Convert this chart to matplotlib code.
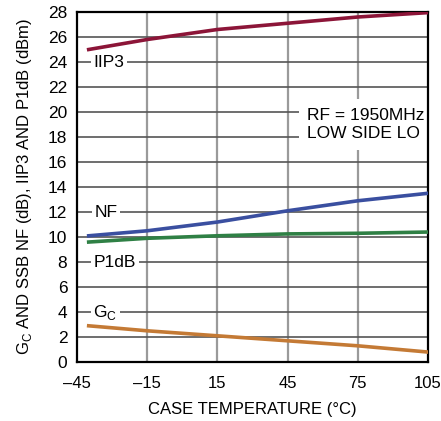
import matplotlib
matplotlib.use('Agg')
import matplotlib.pyplot as plt
from matplotlib import font_manager

names = set(f.name for f in font_manager.fontManager.ttflist)
fam = 'Liberation Sans Narrow' if 'Liberation Sans Narrow' in names else 'Liberation Sans'
plt.rcParams['font.family'] = [fam, 'DejaVu Sans']
plt.rcParams['mathtext.fontset'] = 'custom'
plt.rcParams['mathtext.rm'] = fam

temp = [-40, -15, 15, 45, 75, 105]
iip3 = [25.0, 25.8, 26.6, 27.1, 27.6, 27.95]
nf = [10.1, 10.5, 11.2, 12.1, 12.9, 13.5]
p1db = [9.6, 9.9, 10.1, 10.25, 10.3, 10.4]
gc = [2.9, 2.5, 2.1, 1.7, 1.3, 0.8]

xticks = [-45, -15, 15, 45, 75, 105]
xticklabels = ['\u201345', '\u201315', '15', '45', '75', '105']

fig = plt.figure(figsize=(4.41, 4.21), dpi=100)
ax = fig.add_axes([0.1746, 0.140, 0.7959, 0.8315])

for x in xticks[1:-1]:
    ax.axvline(x, color='#9a9a9a', lw=1.6, zorder=1)
for y in range(2, 28, 2):
    ax.axhline(y, color='#555555', lw=1.2, zorder=1)

ax.plot(temp, iip3, color='#8c1538', lw=2.6, zorder=3)
ax.plot(temp, nf, color='#3a4fa0', lw=2.6, zorder=3)
ax.plot(temp, p1db, color='#2f8045', lw=2.6, zorder=3)
ax.plot(temp, gc, color='#c47a35', lw=2.6, zorder=3)

box = dict(facecolor='white', edgecolor='none', pad=2)
ax.text(-38, 24, 'IIP3', fontsize=12.5, va='center', ha='left', bbox=box, zorder=2)
ax.text(-37.5, 12, 'NF', fontsize=12.5, va='center', ha='left', bbox=box, zorder=2)
ax.text(-38, 8, 'P1dB', fontsize=12.5, va='center', ha='left', bbox=box, zorder=2)
ax.text(-38, 4, 'G$_\\mathrm{C}$', fontsize=12.5, va='center', ha='left', bbox=box, zorder=2)
ax.text(53.5, 19, 'RF = 1950MHz\nLOW SIDE LO', fontsize=12.5, va='center', ha='left',
        linespacing=1.3, bbox=dict(facecolor='white', edgecolor='none', pad=6), zorder=2)

ax.set_xlim(-45, 105)
ax.set_ylim(0, 28)
ax.set_xticks(xticks)
ax.set_xticklabels(xticklabels)
ax.set_yticks(range(0, 29, 2))
ax.tick_params(length=0, labelsize=12.5)
ax.tick_params(axis='x', pad=10, labelsize=12)
ax.tick_params(axis='y', pad=7)
for s in ax.spines.values():
    s.set_linewidth(1.6)
ax.set_xlabel('CASE TEMPERATURE (\u00b0C)', fontsize=12, labelpad=8)
ax.set_ylabel('G$_\\mathrm{C}$ AND SSB NF (dB), IIP3 AND P1dB (dBm)', fontsize=12, labelpad=10)

fig.savefig('out.png', dpi=100)
